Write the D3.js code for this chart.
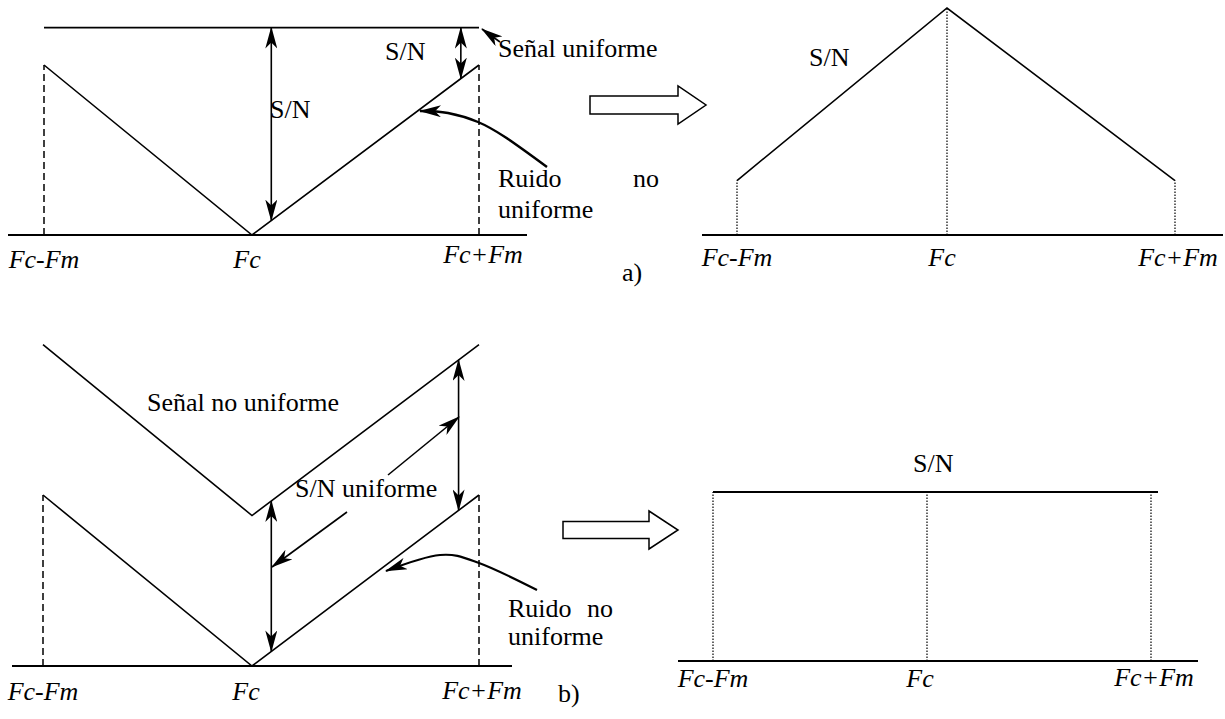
<!DOCTYPE html>
<html>
<head>
<meta charset="utf-8">
<script src="https://cdn.jsdelivr.net/npm/d3@7"></script>
<style>
  body { margin: 0; background: #fff; }
  text { font-family: "Liberation Serif", "Times New Roman", Times, serif; font-size: 26px; fill: #000; }
  .flab { font-style: italic; }
</style>
</head>
<body>
<svg id="fig" width="1225" height="719"></svg>
<script>
// frequency positions (in units of Fm around Fc)
const freqs = [-1, 0, 1];
const freqLabels = ["Fc-Fm", "Fc", "Fc+Fm"];

// a) uniform signal over non-uniform noise
const noiseA = [1, 0, 1];
const signalA = [1.22, 1.22, 1.22];
const snA = [0.24, 1, 0.24];
const arrowFreqsA = [0.085, 0.92];   // where the S/N arrows are drawn

// b) non-uniform signal over non-uniform noise
const noiseB = [1, 0, 1];
const signalB = [1.88, 0.88, 1.88];
const snB = [1, 1, 1];
const arrowFreqsB = [0.085, 0.91];

const svg = d3.select("#fig");

// markers
const defs = svg.append("defs");
function marker(id, orient) {
  defs.append("marker")
    .attr("id", id)
    .attr("viewBox", "0 0 22 12")
    .attr("markerWidth", 22).attr("markerHeight", 12)
    .attr("refX", 21).attr("refY", 6)
    .attr("markerUnits", "userSpaceOnUse")
    .attr("orient", orient)
    .append("path")
    .attr("d", "M0,0 L22,6 L0,12 L6,6 Z")
    .attr("fill", "#000");
}
marker("ahEnd", "auto");
marker("ahStart", "auto-start-reverse");

const lineGen = d3.line();

// ---------- helpers ----------
function panel(xRange, yRange, base) {
  const x = d3.scaleLinear().domain(freqs).range(xRange);
  const y = d3.scaleLinear().domain([0, 1]).range(yRange);
  const g = svg.append("g");
  g.append("line")
    .attr("x1", base[0]).attr("x2", base[1])
    .attr("y1", y(0)).attr("y2", y(0))
    .attr("stroke", "#000").attr("stroke-width", 2);
  return { x, y, g };
}

function poly(p, vals, width) {
  p.g.append("path")
    .attr("d", lineGen(freqs.map((f, i) => [p.x(f), p.y(vals[i])])))
    .attr("fill", "none").attr("stroke", "#000")
    .attr("stroke-width", width || 1.6)
    .attr("stroke-linejoin", "miter");
}

function guide(p, f, v0, v1, dash, w) {
  p.g.append("line")
    .attr("x1", p.x(f)).attr("x2", p.x(f))
    .attr("y1", p.y(v0)).attr("y2", p.y(v1))
    .attr("stroke", "#000").attr("stroke-width", w)
    .attr("stroke-dasharray", dash);
}

// double arrow between signal and noise at frequency f
function dblArrow(p, f, sig, noi) {
  const s = d3.scaleLinear().domain(freqs).range(sig);
  const n = d3.scaleLinear().domain(freqs).range(noi);
  p.g.append("line")
    .attr("x1", p.x(f)).attr("x2", p.x(f))
    .attr("y1", p.y(s(f))).attr("y2", p.y(n(f)))
    .attr("stroke", "#000").attr("stroke-width", 1.6)
    .attr("marker-start", "url(#ahStart)")
    .attr("marker-end", "url(#ahEnd)");
}

function freqAxisLabels(p, ys, dxs) {
  freqs.forEach((f, i) => {
    p.g.append("text").attr("class", "flab")
      .attr("x", p.x(f) + dxs[i]).attr("y", ys[i])
      .attr("text-anchor", "middle")
      .text(freqLabels[i]);
  });
}

function txt(x, y, s) {
  svg.append("text").attr("x", x).attr("y", y).text(s);
}

function pointer(pts, width) {
  svg.append("path")
    .attr("d", d3.line().curve(d3.curveCardinal)(pts))
    .attr("fill", "none").attr("stroke", "#000")
    .attr("stroke-width", width)
    .attr("marker-end", "url(#ahEnd)");
}

function blockArrow(x0, xh, tip, cy, hr, hh) {
  svg.append("path")
    .attr("d", `M${x0},${cy - hr} L${xh},${cy - hr} L${xh},${cy - hh} L${tip},${cy} L${xh},${cy + hh} L${xh},${cy + hr} L${x0},${cy + hr} Z`)
    .attr("fill", "#fff").attr("stroke", "#000").attr("stroke-width", 1.5);
}

// ---------- a) left ----------
const aL = panel([44, 252, 479], [235, 65], [8, 527]);
guide(aL, -1, 0, noiseA[0], "7,4", 1.5);
guide(aL, 1, 0, noiseA[2], "7,4", 1.5);
poly(aL, noiseA);
poly(aL, signalA, 1.8);
arrowFreqsA.forEach(f => dblArrow(aL, f, signalA, noiseA));
freqAxisLabels(aL, [268, 268, 263], [0, -5, 4]);
txt(270, 118, "S/N");
txt(385, 60, "S/N");
txt(498, 57, "Señal uniforme");
pointer([[500, 42], [482, 29]], 1.6);
txt(498, 187, "Ruido");
txt(633, 187, "no");
txt(498, 218, "uniforme");
pointer([[547, 167], [505, 137], [478, 122], [448, 113], [420, 111]], 2.4);

blockArrow(590, 678, 706, 105, 9, 19);
txt(622, 281, "a)");

// ---------- a) right ----------
const aR = panel([737, 947, 1175], [235, 8], [702, 1223]);
freqs.forEach((f, i) => guide(aR, f, 0, snA[i], "1.5,1.5", 1.2));
poly(aR, snA);
freqAxisLabels(aR, [266, 266, 266], [0, -5, 3]);
txt(809, 66, "S/N");

// ---------- b) left ----------
const bL = panel([43, 252, 479], [666, 495], [12, 512]);
guide(bL, -1, 0, noiseB[0], "7,4", 1.5);
guide(bL, 1, 0, noiseB[2], "7,4", 1.5);
poly(bL, noiseB);
poly(bL, signalB);
arrowFreqsB.forEach(f => dblArrow(bL, f, signalB, noiseB));
freqAxisLabels(bL, [700, 700, 699], [0, -6, 3]);
txt(147, 411, "Señal no uniforme");
txt(295, 497, "S/N uniforme");
pointer([[388, 475], [459, 417]], 1.6);
pointer([[347, 512], [272, 567]], 1.6);
txt(508, 617, "Ruido");
txt(587, 617, "no");
txt(508, 645, "uniforme");
pointer([[537, 590], [479, 563], [440, 555], [386, 571]], 2.2);

blockArrow(563, 649, 678, 530, 8.5, 19);
txt(558, 702, "b)");

// ---------- b) right ----------
const bR = panel([713, 927, 1151], [661, 492], [678, 1198]);
freqs.forEach((f, i) => guide(bR, f, 0, snB[i], "1.5,1.5", 1.2));
bR.g.append("line")
  .attr("x1", bR.x(-1)).attr("x2", bR.x(1) + 7)
  .attr("y1", bR.y(snB[0])).attr("y2", bR.y(snB[2]))
  .attr("stroke", "#000").attr("stroke-width", 2.2);
freqAxisLabels(bR, [687, 687, 686], [0, -7, 3]);
txt(913, 472, "S/N");
</script>
</body>
</html>
